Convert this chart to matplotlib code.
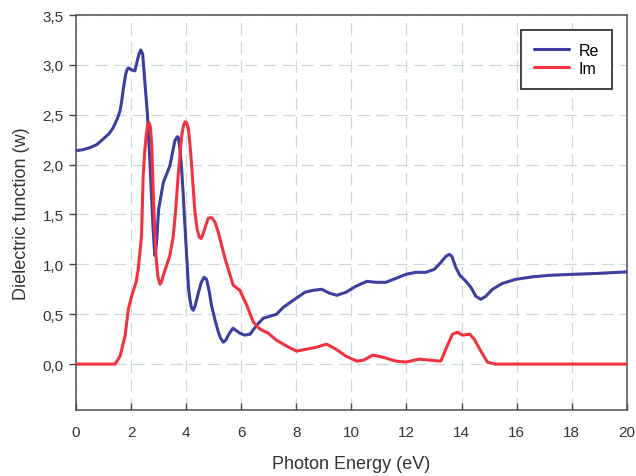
import matplotlib
matplotlib.use("Agg")
import matplotlib.pyplot as plt
from matplotlib.ticker import FuncFormatter

plt.rcParams['font.family'] = ['Liberation Sans', 'DejaVu Sans']

# Real part of the dielectric function
re_energy = [0.0, 0.25, 0.5, 0.75, 1.0, 1.2, 1.35, 1.5, 1.6, 1.65, 1.72, 1.8, 1.85, 1.9,
             2.02, 2.14, 2.24, 2.3, 2.35, 2.42, 2.5, 2.59, 2.68, 2.8, 2.86, 2.92, 3.0,
             3.17, 3.41, 3.59, 3.68, 3.72, 3.77, 3.83, 3.89, 3.94, 3.99, 4.04, 4.08,
             4.13, 4.18, 4.22, 4.26, 4.32, 4.44, 4.55, 4.65, 4.74, 4.83, 4.92, 5.05,
             5.17, 5.25, 5.35, 5.44, 5.53, 5.62, 5.7, 5.85, 5.95, 6.13, 6.32, 6.56,
             6.8, 7.04, 7.28, 7.53, 7.89, 8.31, 8.61, 8.92, 9.22, 9.47, 9.8, 10.16,
             10.4, 10.57, 10.89, 11.25, 11.62, 11.98, 12.34, 12.7, 13.01, 13.25,
             13.43, 13.55, 13.65, 13.79, 13.94, 14.16, 14.34, 14.52, 14.7, 14.88,
             15.12, 15.49, 15.97, 16.58, 17.18, 18.03, 19.0, 20.0]
re_values = [2.14, 2.15, 2.17, 2.2, 2.26, 2.31, 2.37, 2.46, 2.54, 2.62, 2.76, 2.9, 2.95,
             2.97, 2.95, 2.94, 3.06, 3.12, 3.15, 3.11, 2.83, 2.52, 2.05, 1.35, 1.09,
             1.2, 1.55, 1.82, 1.99, 2.24, 2.28, 2.27, 2.16, 1.98, 1.72, 1.46, 1.22,
             0.98, 0.78, 0.66, 0.58, 0.55, 0.54, 0.58, 0.71, 0.82, 0.87, 0.85, 0.74,
             0.59, 0.44, 0.32, 0.26, 0.22, 0.24, 0.29, 0.33, 0.36, 0.33, 0.31, 0.29,
             0.3, 0.39, 0.46, 0.48, 0.5, 0.57, 0.64, 0.72, 0.74, 0.75, 0.71, 0.69,
             0.72, 0.78, 0.81, 0.83, 0.82, 0.82, 0.86, 0.9, 0.92, 0.92, 0.95, 1.02,
             1.08, 1.1, 1.08, 0.97, 0.89, 0.83, 0.77, 0.68, 0.65, 0.68, 0.75, 0.81,
             0.85, 0.875, 0.89, 0.9, 0.91, 0.925]

# Imaginary part of the dielectric function
im_energy = [0.0, 1.42, 1.6, 1.78, 1.9, 2.02, 2.18, 2.26, 2.32, 2.38, 2.44, 2.5, 2.56,
             2.6, 2.65, 2.7, 2.75, 2.82, 2.9, 2.97, 3.05, 3.1, 3.17, 3.29, 3.41, 3.53,
             3.62, 3.71, 3.84, 3.9, 3.96, 4.02, 4.08, 4.14, 4.2, 4.26, 4.32, 4.4, 4.48,
             4.55, 4.62, 4.7, 4.8, 4.88, 4.96, 5.05, 5.17, 5.29, 5.4, 5.53, 5.71,
             5.95, 6.2, 6.44, 6.68, 6.98, 7.28, 7.65, 8.01, 8.37, 8.74, 9.1, 9.44,
             9.8, 10.2, 10.45, 10.77, 11.13, 11.62, 11.98, 12.46, 12.82, 13.25, 13.43,
             13.67, 13.85, 14.04, 14.3, 14.46, 14.7, 14.94, 15.24, 20.0]
im_values = [0.0, 0.0, 0.08, 0.28, 0.55, 0.68, 0.82, 0.95, 1.12, 1.29, 1.89, 2.15, 2.32,
             2.39, 2.42, 2.38, 2.2, 1.6, 1.1, 0.88, 0.8, 0.82, 0.89, 0.99, 1.09, 1.28,
             1.55, 1.89, 2.29, 2.39, 2.43, 2.42, 2.36, 2.2, 1.99, 1.75, 1.52, 1.35,
             1.27, 1.26, 1.31, 1.38, 1.46, 1.47, 1.46, 1.42, 1.32, 1.19, 1.07, 0.95,
             0.79, 0.74, 0.59, 0.42, 0.35, 0.31, 0.24, 0.18, 0.13, 0.15, 0.17, 0.2,
             0.15, 0.08, 0.03, 0.04, 0.09, 0.07, 0.03, 0.02, 0.05, 0.04, 0.03, 0.15,
             0.3, 0.32, 0.29, 0.3, 0.25, 0.13, 0.02, 0.0, 0.0]

x_ticks = [0, 2, 4, 6, 8, 10, 12, 14, 16, 18, 20]
y_ticks = [0.0, 0.5, 1.0, 1.5, 2.0, 2.5, 3.0, 3.5]

fig = plt.figure(figsize=(6.36, 4.77), dpi=100)
ax = fig.add_axes([0.1195, 0.1384, 0.866, 0.828])

ax.plot(re_energy, re_values, color='#3c3f9e', lw=2.2, solid_joinstyle='round',
        solid_capstyle='round', label='Re', zorder=3)
ax.plot(im_energy, im_values, color='#f2333f', lw=2.2, solid_joinstyle='round',
        solid_capstyle='round', label='Im', zorder=3)

ax.set_xlim(0, 20)
ax.set_ylim(-0.46, 3.5)
ax.set_xticks(x_ticks)
ax.set_yticks(y_ticks)

ax.yaxis.set_major_formatter(FuncFormatter(lambda v, p: f"{v:.1f}".replace('.', ',')))
ax.xaxis.set_major_formatter(FuncFormatter(lambda v, p: f"{v:g}"))

ax.grid(True, color='#cbd8e0', linestyle=(0, (10, 5)), linewidth=0.9, zorder=0)

ax.tick_params(axis='x', direction='in', length=5, width=1, colors='#444444',
               labelsize=11, labelcolor='#333333', pad=11)
ax.tick_params(axis='y', direction='out', length=5, width=1, colors='#444444',
               labelsize=11, labelcolor='#333333', pad=4)

for side in ['left', 'bottom', 'top', 'right']:
    ax.spines[side].set_color('#505050')
    ax.spines[side].set_linewidth(1.1)

ax.set_xlabel('Photon Energy (eV)', fontsize=13, color='#333333', labelpad=11)
ax.set_ylabel('Dielectric function (w)', fontsize=13, color='#333333', labelpad=9)

leg = ax.legend(loc='upper right', bbox_to_anchor=(0.9728, 0.962), borderaxespad=0,
                fontsize=11.5, handlelength=2.2, borderpad=0.8, labelspacing=0.2,
                handletextpad=0.6, fancybox=False, framealpha=1)
leg.get_frame().set_edgecolor('#222222')
leg.get_frame().set_linewidth(1.2)

fig.savefig('out.png', dpi=100)
